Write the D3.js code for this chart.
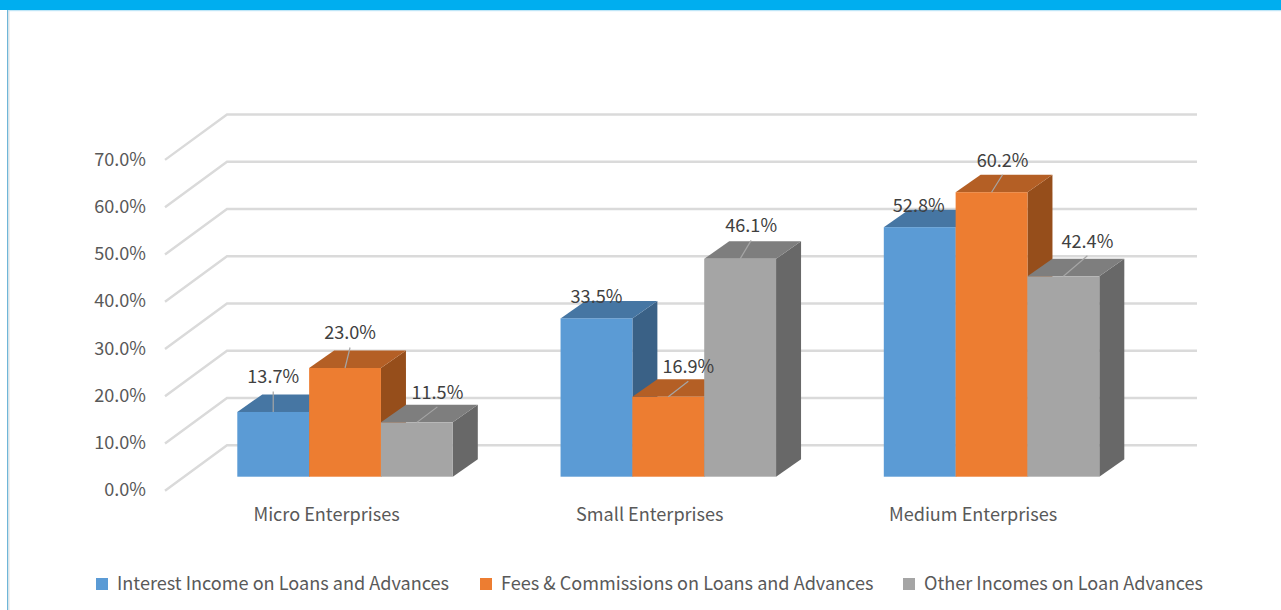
<!DOCTYPE html>
<html>
<head>
<meta charset="utf-8">
<script src="https://cdn.jsdelivr.net/npm/d3@7"></script>
<style>
  html, body { margin: 0; padding: 0; background: #fff; overflow: hidden; }
  text { font-family: "Noto Sans CJK SC", "Noto Sans", sans-serif; }
</style>
</head>
<body>
<svg width="1281" height="610"></svg>
<script>
const categories = ["Micro Enterprises", "Small Enterprises", "Medium Enterprises"];
const seriesNames = [
  "Interest Income on Loans and Advances",
  "Fees & Commissions on Loans and Advances",
  "Other Incomes on Loan Advances"
];
const interestIncome = [13.7, 33.5, 52.8];
const feesCommissions = [23.0, 16.9, 60.2];
const otherIncomes = [11.5, 46.1, 42.4];
const yTicks = [0, 10, 20, 30, 40, 50, 60, 70];

const svg = d3.select("svg");

// CONSTANTS
const depthX = 25, depthY = 17.5;
const frontBase = 476.7;
const wallBase = 445.3;
const wallTop = 114.5;
const fontSize = 18.1;

const colors = [
  { front: "#5b9bd5", top: "#4676a3", side: "#3a6186" },
  { front: "#ed7d31", top: "#b45f25", side: "#964e1b" },
  { front: "#a5a5a5", top: "#7e7e7e", side: "#686868" }
];

// label centre relative to the front-top centre of the bar, [category][series]
const labelOffsets = [
  [[0, -35], [5, -35], [20.5, -30]],
  [[0, -22], [20, -30], [11, -33]],
  [[-1, -22], [11, -32], [24, -35]]
];
const hasLeader = [
  [true, true, true],
  [false, true, true],
  [false, true, true]
];

//SCALES
const yWall = d3.scaleLinear().domain([0, 70]).range([wallBase, wallTop]);
const yFront = v => yWall(v) + (frontBase - wallBase);
const xCat = d3.scaleBand().domain(categories).range([237.3, 1099.3]).paddingInner(1 / 3).paddingOuter(0);
const xSeries = d3.scaleBand().domain(seriesNames).range([0, xCat.bandwidth()]);

const percent = d3.format(".1f");
const values = [interestIncome, feesCommissions, otherIncomes];

// page frame
svg.append("rect").attr("x", 7).attr("y", 0).attr("width", 1.4).attr("height", 610).attr("fill", "#6fb6d8");
svg.append("rect").attr("x", 8.4).attr("y", 10).attr("width", 1.2).attr("height", 600).attr("fill", "#e4e4e4");
svg.append("rect").attr("x", 0).attr("y", 0).attr("width", 1281).attr("height", 10).attr("fill", "#00aeef");
svg.append("rect").attr("x", 8).attr("y", 10).attr("width", 1273).attr("height", 1.2).attr("fill", "#bfe6f7");

// gridlines: floor/wall fold
const grid = svg.append("g").attr("fill", "none").attr("stroke", "#dadada").attr("stroke-width", 2.4);
grid.selectAll("path").data(yTicks).join("path")
  .attr("d", d => `M165,${yWall(d) + 45.4}L227,${yWall(d)}H1197`);

// axis labels
svg.append("g").selectAll("text").data(yTicks).join("text")
  .attr("x", 146).attr("y", d => yWall(d) + 45.4 - 0.6)
  .attr("dy", "0.35em")
  .attr("text-anchor", "end")
  .attr("font-size", fontSize).attr("fill", "#595959")
  .text(d => percent(d) + "%");

svg.append("g").selectAll("text").data(categories).join("text")
  .attr("x", d => xCat(d) + xCat.bandwidth() / 2 - 18.5)
  .attr("y", 521)
  .attr("text-anchor", "middle")
  .attr("font-size", fontSize).attr("fill", "#595959")
  .text(d => d);

// bars, left to right so each one covers the side of its left neighbour
const cells = [];
categories.forEach((c, i) => {
  seriesNames.forEach((s, j) => {
    cells.push({ c, s, i, j, v: values[j][i] });
  });
});

const bars = svg.append("g").selectAll("g").data(cells).join("g");
const xL = d => xCat(d.c) + xSeries(d.s);
const xR = d => xL(d) + xSeries.bandwidth();

bars.append("path") // side
  .attr("d", d => `M${xR(d)},${yFront(d.v)}L${xR(d) + depthX},${yFront(d.v) - depthY}V${frontBase - depthY}L${xR(d)},${frontBase}Z`)
  .attr("fill", d => colors[d.j].side);
bars.append("path") // top
  .attr("d", d => `M${xL(d)},${yFront(d.v)}L${xL(d) + depthX},${yFront(d.v) - depthY}H${xR(d) + depthX}L${xR(d)},${yFront(d.v)}Z`)
  .attr("fill", d => colors[d.j].top);
bars.append("rect") // front
  .attr("x", xL).attr("y", d => yFront(d.v))
  .attr("width", xSeries.bandwidth())
  .attr("height", d => frontBase - yFront(d.v))
  .attr("fill", d => colors[d.j].front);

// leader lines
const labelX = d => xL(d) + xSeries.bandwidth() / 2 + labelOffsets[d.i][d.j][0];
const labelY = d => yFront(d.v) + labelOffsets[d.i][d.j][1];
svg.append("g").selectAll("line").data(cells.filter(d => hasLeader[d.i][d.j])).join("line")
  .attr("x1", d => xL(d) + xSeries.bandwidth() / 2)
  .attr("y1", d => yFront(d.v))
  .attr("x2", labelX)
  .attr("y2", d => labelY(d) + 14.5)
  .attr("stroke", "#a6a6a6").attr("stroke-width", 1.2);

svg.append("g").selectAll("text").data(cells).join("text")
  .attr("x", labelX).attr("y", labelY)
  .attr("dy", "0.35em")
  .attr("text-anchor", "middle")
  .attr("font-size", fontSize).attr("fill", "#404040")
  .text(d => percent(d.v) + "%");

// legend
const legendX = [96, 480, 903];
const legend = svg.append("g").selectAll("g").data(seriesNames).join("g")
  .attr("transform", (d, i) => `translate(${legendX[i]},578)`);
legend.append("rect").attr("width", 12).attr("height", 12).attr("fill", (d, i) => colors[i].front);
legend.append("text").attr("x", 21).attr("y", 6).attr("dy", "0.35em")
  .attr("font-size", fontSize).attr("fill", "#595959").text(d => d);
</script>
</body>
</html>
